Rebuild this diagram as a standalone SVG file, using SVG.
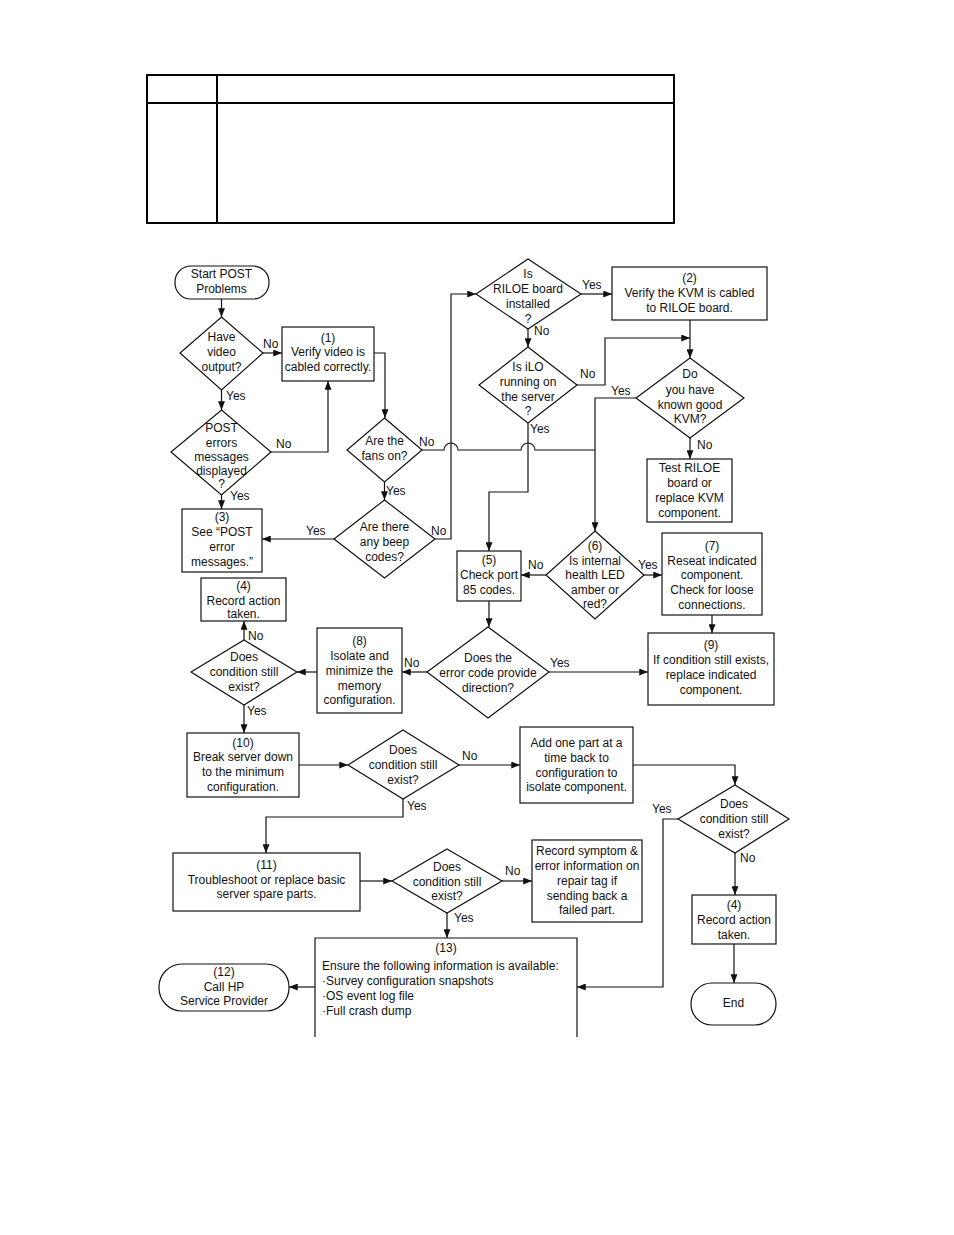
<svg xmlns="http://www.w3.org/2000/svg" width="954" height="1235" viewBox="0 0 954 1235">
<style>
text{font-family:"Liberation Sans",Arial,sans-serif;font-size:12px;fill:#111;}
.c{text-anchor:middle;}
.shape{fill:#fff;stroke:#111;stroke-width:1.2;}
.ln{fill:none;stroke:#111;stroke-width:1.2;}
.arr{fill:none;stroke:#111;stroke-width:1.2;marker-end:url(#ah);}
.tbl{fill:none;stroke:#000;stroke-width:2;}
</style>
<defs>
<marker id="ah" viewBox="0 0 10 8" refX="10" refY="4" markerWidth="9" markerHeight="7" markerUnits="userSpaceOnUse" orient="auto">
<path d="M0,0 L10,4 L0,8 z" fill="#111"/>
</marker>
</defs>
<rect width="954" height="1235" fill="#fff"/>
<g id="table">
<rect class="tbl" x="147" y="75" width="527" height="148"/>
<line class="tbl" x1="147" y1="103" x2="674" y2="103"/>
<line class="tbl" x1="217" y1="75" x2="217" y2="223"/>
</g>
<g id="connectors">
<path class="arr" d="M221.5,299 V317"/>
<path class="arr" d="M263,353 H282"/>
<path class="arr" d="M221.5,390 V410"/>
<path class="arr" d="M271,452 H328 V381"/>
<path class="arr" d="M221.5,495 V509"/>
<path class="arr" d="M374,353 H385 V418"/>
<path class="arr" d="M384.5,482 V500"/>
<path class="ln" d="M422,450 H444 A7,7 0 0 1 458,450 H521 A7,7 0 0 1 535,450 H595"/>
<path class="arr" d="M334,539 H262"/>
<path class="arr" d="M435,539 H451 V294 H476"/>
<path class="arr" d="M581,294 H612"/>
<path class="arr" d="M528,329 V347"/>
<path class="arr" d="M577,385 H605 V338 H690"/>
<path class="arr" d="M690,320 V358"/>
<path class="arr" d="M636,398 H595 V531"/>
<path class="arr" d="M690,438 V459"/>
<path class="arr" d="M528,423 V492 H489 V551"/>
<path class="arr" d="M546,575 H521"/>
<path class="arr" d="M644,575 H662"/>
<path class="arr" d="M712,615 V633"/>
<path class="arr" d="M489,601 V627"/>
<path class="arr" d="M549,672 H648"/>
<path class="arr" d="M427,672 H402"/>
<path class="arr" d="M317,672 H297"/>
<path class="arr" d="M244,640 V621"/>
<path class="arr" d="M244,705 V733"/>
<path class="arr" d="M299,765 H348"/>
<path class="arr" d="M459,765 H520"/>
<path class="arr" d="M403,799 V817 H266 V853"/>
<path class="arr" d="M633,765 H735 V785"/>
<path class="arr" d="M360,881 H392"/>
<path class="arr" d="M502,881 H532"/>
<path class="arr" d="M447,913 V938"/>
<path class="arr" d="M678,819 H663 V987 H577"/>
<path class="arr" d="M735,853 V895"/>
<path class="arr" d="M734,944 V983"/>
<path class="arr" d="M315,987 H289"/>
<text x="263" y="348">No</text>
<text x="226" y="400">Yes</text>
<text x="276" y="448">No</text>
<text x="230" y="500">Yes</text>
<text x="386" y="495">Yes</text>
<text x="419" y="446">No</text>
<text x="306" y="535">Yes</text>
<text x="431" y="535">No</text>
<text x="582" y="289">Yes</text>
<text x="534" y="335">No</text>
<text x="580" y="378">No</text>
<text x="611" y="395">Yes</text>
<text x="697" y="449">No</text>
<text x="530" y="433">Yes</text>
<text x="528" y="569">No</text>
<text x="638" y="569">Yes</text>
<text x="550" y="667">Yes</text>
<text x="404" y="667">No</text>
<text x="248" y="640">No</text>
<text x="247" y="715">Yes</text>
<text x="462" y="760">No</text>
<text x="407" y="810">Yes</text>
<text x="505" y="875">No</text>
<text x="454" y="922">Yes</text>
<text x="652" y="813">Yes</text>
<text x="740" y="862">No</text>
</g>
<g id="start">
<rect class="shape" x="175" y="266" width="94" height="33" rx="16"/>
<text class="c" x="221.5" y="278">Start POST</text>
<text class="c" x="221.5" y="293">Problems</text>
</g>
<g id="d-video">
<polygon class="shape" points="221.5,317 263,353 221.5,390 180,353"/>
<text class="c" x="221.5" y="341">Have</text>
<text class="c" x="221.5" y="356">video</text>
<text class="c" x="221.5" y="371">output?</text>
</g>
<g id="b1">
<rect class="shape" x="282" y="327" width="92" height="54"/>
<text class="c" x="328" y="342">(1)</text>
<text class="c" x="328" y="356">Verify video is</text>
<text class="c" x="328" y="371">cabled correctly.</text>
</g>
<g id="d-post">
<polygon class="shape" points="221.5,410 271,452 221.5,495 171,452"/>
<text class="c" x="221.5" y="432">POST</text>
<text class="c" x="221.5" y="447">errors</text>
<text class="c" x="221.5" y="461">messages</text>
<text class="c" x="221.5" y="475">displayed</text>
<text class="c" x="221.5" y="488">?</text>
</g>
<g id="b3">
<rect class="shape" x="182" y="509" width="80" height="63"/>
<text class="c" x="222" y="521">(3)</text>
<text class="c" x="222" y="536">See “POST</text>
<text class="c" x="222" y="551">error</text>
<text class="c" x="222" y="566">messages.”</text>
</g>
<g id="d-fans">
<polygon class="shape" points="384.5,418 422,450 384.5,482 347,450"/>
<text class="c" x="384.5" y="445">Are the</text>
<text class="c" x="384.5" y="460">fans on?</text>
</g>
<g id="d-beep">
<polygon class="shape" points="384.5,500 435,539 384.5,578 334,539"/>
<text class="c" x="384.5" y="531">Are there</text>
<text class="c" x="384.5" y="546">any beep</text>
<text class="c" x="384.5" y="561">codes?</text>
</g>
<g id="b4a">
<rect class="shape" x="201" y="578" width="85" height="43"/>
<text class="c" x="243.5" y="590">(4)</text>
<text class="c" x="243.5" y="605">Record action</text>
<text class="c" x="243.5" y="618">taken.</text>
</g>
<g id="d-riloe">
<polygon class="shape" points="528,259 581,294 528,329 476,294"/>
<text class="c" x="528" y="278">Is</text>
<text class="c" x="528" y="293">RILOE board</text>
<text class="c" x="528" y="308">installed</text>
<text class="c" x="528" y="323">?</text>
</g>
<g id="b2">
<rect class="shape" x="612" y="267" width="155" height="53"/>
<text class="c" x="689.5" y="282">(2)</text>
<text class="c" x="689.5" y="297">Verify the KVM is cabled</text>
<text class="c" x="689.5" y="312">to RILOE board.</text>
</g>
<g id="d-ilo">
<polygon class="shape" points="528,347 577,385 528,423 479,385"/>
<text class="c" x="528" y="371">Is iLO</text>
<text class="c" x="528" y="386">running on</text>
<text class="c" x="528" y="401">the server</text>
<text class="c" x="528" y="415">?</text>
</g>
<g id="d-kvm">
<polygon class="shape" points="690,358 744,398 690,438 636,398"/>
<text class="c" x="690" y="378">Do</text>
<text class="c" x="690" y="394">you have</text>
<text class="c" x="690" y="409">known good</text>
<text class="c" x="690" y="423">KVM?</text>
</g>
<g id="b-test">
<rect class="shape" x="647" y="459" width="85" height="63"/>
<text class="c" x="689.5" y="472">Test RILOE</text>
<text class="c" x="689.5" y="487">board or</text>
<text class="c" x="689.5" y="502">replace KVM</text>
<text class="c" x="689.5" y="517">component.</text>
</g>
<g id="b5">
<rect class="shape" x="457" y="551" width="64" height="50"/>
<text class="c" x="489" y="564">(5)</text>
<text class="c" x="489" y="579">Check port</text>
<text class="c" x="489" y="594">85 codes.</text>
</g>
<g id="d6">
<polygon class="shape" points="595,531 644,575 595,619 546,575"/>
<text class="c" x="595" y="550">(6)</text>
<text class="c" x="595" y="565">Is internal</text>
<text class="c" x="595" y="579">health LED</text>
<text class="c" x="595" y="594">amber or</text>
<text class="c" x="595" y="608">red?</text>
</g>
<g id="b7">
<rect class="shape" x="662" y="533" width="100" height="82"/>
<text class="c" x="712" y="550">(7)</text>
<text class="c" x="712" y="565">Reseat indicated</text>
<text class="c" x="712" y="579">component.</text>
<text class="c" x="712" y="594">Check for loose</text>
<text class="c" x="712" y="609">connections.</text>
</g>
<g id="b9">
<rect class="shape" x="648" y="633" width="126" height="72"/>
<text class="c" x="711" y="649">(9)</text>
<text class="c" x="711" y="664">If condition still exists,</text>
<text class="c" x="711" y="679">replace indicated</text>
<text class="c" x="711" y="694">component.</text>
</g>
<g id="d-error">
<polygon class="shape" points="488,627 549,672 488,718 427,672"/>
<text class="c" x="488" y="662">Does the</text>
<text class="c" x="488" y="677">error code provide</text>
<text class="c" x="488" y="692">direction?</text>
</g>
<g id="b8">
<rect class="shape" x="317" y="628" width="85" height="85"/>
<text class="c" x="359.5" y="645">(8)</text>
<text class="c" x="359.5" y="660">Isolate and</text>
<text class="c" x="359.5" y="675">minimize the</text>
<text class="c" x="359.5" y="690">memory</text>
<text class="c" x="359.5" y="704">configuration.</text>
</g>
<g id="d-cond1">
<polygon class="shape" points="244,640 297,672 244,705 191,672"/>
<text class="c" x="244" y="661">Does</text>
<text class="c" x="244" y="676">condition still</text>
<text class="c" x="244" y="691">exist?</text>
</g>
<g id="b10">
<rect class="shape" x="187" y="733" width="112" height="64"/>
<text class="c" x="243" y="747">(10)</text>
<text class="c" x="243" y="761">Break server down</text>
<text class="c" x="243" y="776">to the minimum</text>
<text class="c" x="243" y="791">configuration.</text>
</g>
<g id="d-cond2">
<polygon class="shape" points="403,730 459,765 403,799 348,765"/>
<text class="c" x="403" y="754">Does</text>
<text class="c" x="403" y="769">condition still</text>
<text class="c" x="403" y="784">exist?</text>
</g>
<g id="b-add">
<rect class="shape" x="520" y="727" width="113" height="76"/>
<text class="c" x="576.5" y="747">Add one part at a</text>
<text class="c" x="576.5" y="762">time back to</text>
<text class="c" x="576.5" y="777">configuration to</text>
<text class="c" x="576.5" y="791">isolate component.</text>
</g>
<g id="d-cond3">
<polygon class="shape" points="735,785 789,819 735,853 678,819"/>
<text class="c" x="734" y="808">Does</text>
<text class="c" x="734" y="823">condition still</text>
<text class="c" x="734" y="838">exist?</text>
</g>
<g id="b11">
<rect class="shape" x="173" y="853" width="187" height="58"/>
<text class="c" x="266.5" y="869">(11)</text>
<text class="c" x="266.5" y="884">Troubleshoot or replace basic</text>
<text class="c" x="266.5" y="898">server spare parts.</text>
</g>
<g id="d-cond4">
<polygon class="shape" points="447,849 502,881 447,913 392,881"/>
<text class="c" x="447" y="871">Does</text>
<text class="c" x="447" y="886">condition still</text>
<text class="c" x="447" y="900">exist?</text>
</g>
<g id="b-record">
<rect class="shape" x="532" y="840" width="110" height="82"/>
<text class="c" x="587" y="855">Record symptom &amp;</text>
<text class="c" x="587" y="870">error information on</text>
<text class="c" x="587" y="885">repair tag if</text>
<text class="c" x="587" y="900">sending back a</text>
<text class="c" x="587" y="914">failed part.</text>
</g>
<g id="b4b">
<rect class="shape" x="692" y="895" width="84" height="49"/>
<text class="c" x="734" y="909">(4)</text>
<text class="c" x="734" y="924">Record action</text>
<text class="c" x="734" y="939">taken.</text>
</g>
<g id="end">
<rect class="shape" x="691" y="983" width="85" height="42" rx="21"/>
<text class="c" x="733.5" y="1007">End</text>
</g>
<g id="b13">
<path class="shape" d="M315,1037 V938 H577 V1037"/>
<text class="c" x="446" y="952">(13)</text>
<text x="322" y="970">Ensure the following information is available:</text>
<text x="322" y="985">·Survey configuration snapshots</text>
<text x="322" y="1000">·OS event log file</text>
<text x="322" y="1015">·Full crash dump</text>
</g>
<g id="n12">
<rect class="shape" x="159" y="964" width="130" height="47" rx="23"/>
<text class="c" x="224" y="976">(12)</text>
<text class="c" x="224" y="991">Call HP</text>
<text class="c" x="224" y="1005">Service Provider</text>
</g>
</svg>
